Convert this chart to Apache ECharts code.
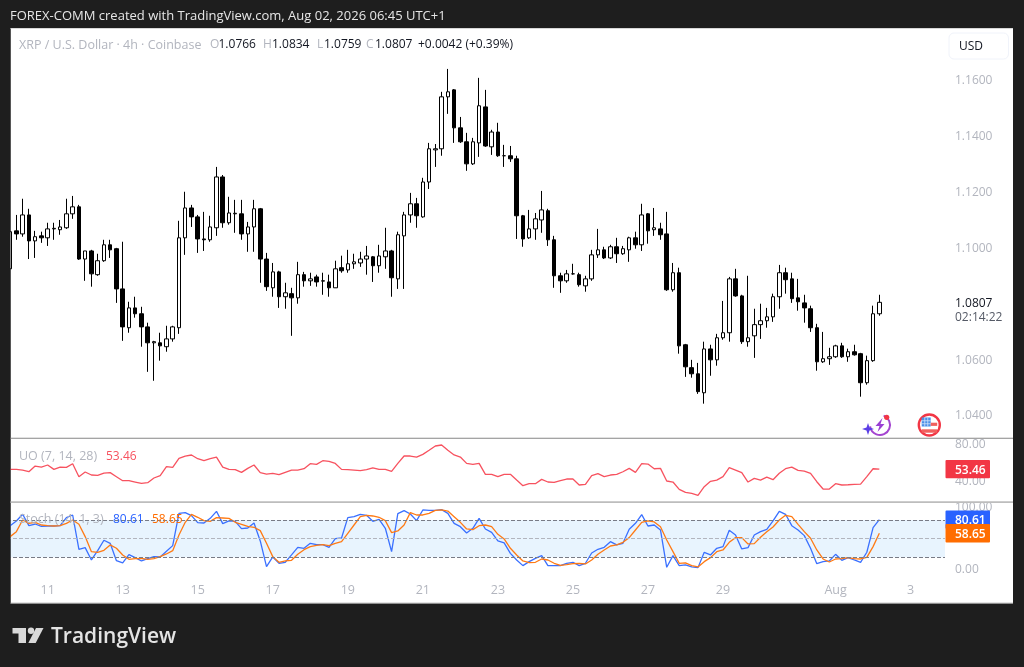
<!DOCTYPE html>
<html><head><meta charset="utf-8"><style>html,body{margin:0;padding:0;background:#1e1e1e}#c{width:1024px;height:667px}</style>
<script src="https://cdn.jsdelivr.net/npm/echarts@6/dist/echarts.min.js"></script></head>
<body><div id="c"></div>
<script>
const opens=[1.0927,1.1063,1.1052,1.1120,1.1027,1.1045,1.1038,1.1070,1.1067,1.1074,1.1124,1.1149,1.0962,1.0991,1.0906,1.0956,1.1013,1.0999,1.0855,1.0716,1.0787,1.0766,1.0719,1.0662,1.0662,1.0648,1.0676,1.0716,1.1038,1.1145,1.1113,1.1034,1.1031,1.1074,1.1256,1.1092,1.1124,1.1124,1.1052,1.1077,1.1142,1.0962,1.0859,1.0916,1.0827,1.0838,1.0823,1.0906,1.0884,1.0898,1.0884,1.0880,1.0859,1.0931,1.0923,1.0945,1.0948,1.0962,1.0970,1.0938,1.0970,1.0991,1.0891,1.1045,1.1120,1.1160,1.1113,1.1238,1.1353,1.1357,1.1543,1.1568,1.1432,1.1382,1.1303,1.1378,1.1507,1.1364,1.1417,1.1332,1.1332,1.1321,1.1117,1.1038,1.1070,1.1102,1.1135,1.1031,1.0902,1.0884,1.0909,1.0906,1.0866,1.0891,1.0977,1.0995,1.0966,1.1006,1.0981,1.0995,1.1038,1.1013,1.1124,1.1067,1.1070,1.1052,1.0852,1.0913,1.0655,1.0573,1.0551,1.0483,1.0640,1.0601,1.0680,1.0698,1.0891,1.0830,1.0666,1.0687,1.0727,1.0741,1.0755,1.0827,1.0913,1.0891,1.0823,1.0805,1.0784,1.0716,1.0594,1.0605,1.0612,1.0651,1.0612,1.0630,1.0623,1.0519,1.0598,1.0766];
const closes=[1.1060,1.1052,1.1120,1.1027,1.1042,1.1038,1.1070,1.1072,1.1077,1.1124,1.1149,1.0962,1.0991,1.0909,1.0956,1.1013,1.0995,1.0855,1.0719,1.0787,1.0766,1.0719,1.0662,1.0666,1.0651,1.0676,1.0719,1.1038,1.1145,1.1113,1.1034,1.1031,1.1077,1.1256,1.1092,1.1127,1.1126,1.1052,1.1077,1.1142,1.0962,1.0863,1.0916,1.0827,1.0841,1.0823,1.0906,1.0884,1.0891,1.0880,1.0883,1.0859,1.0927,1.0920,1.0945,1.0952,1.0962,1.0973,1.0938,1.0973,1.0991,1.0895,1.1049,1.1120,1.1160,1.1117,1.1238,1.1357,1.1357,1.1543,1.1561,1.1432,1.1382,1.1303,1.1382,1.1511,1.1367,1.1417,1.1332,1.1332,1.1321,1.1117,1.1034,1.1070,1.1106,1.1138,1.1031,1.0902,1.0884,1.0909,1.0909,1.0870,1.0891,1.0977,1.0995,1.0966,1.1006,1.0981,1.0999,1.1038,1.1013,1.1120,1.1063,1.1074,1.1049,1.0852,1.0913,1.0651,1.0576,1.0551,1.0487,1.0640,1.0601,1.0680,1.0698,1.0891,1.0830,1.0666,1.0680,1.0727,1.0741,1.0755,1.0827,1.0913,1.0888,1.0820,1.0809,1.0787,1.0716,1.0594,1.0605,1.0612,1.0651,1.0612,1.0630,1.0619,1.0519,1.0598,1.0766,1.0807];
const lows=[1.0923,1.1031,1.1042,1.0962,1.0966,1.1020,1.1009,1.1031,1.1049,1.1070,1.1106,1.0959,1.0884,1.0863,1.0902,1.0952,1.0966,1.0805,1.0669,1.0698,1.0752,1.0648,1.0558,1.0526,1.0598,1.0630,1.0666,1.0694,1.0977,1.1077,1.0984,1.0991,1.1024,1.1045,1.1074,1.1085,1.1056,1.1031,1.0988,1.0988,1.0877,1.0848,1.0827,1.0787,1.0784,1.0687,1.0802,1.0863,1.0866,1.0863,1.0834,1.0827,1.0859,1.0913,1.0913,1.0927,1.0934,1.0906,1.0880,1.0913,1.0927,1.0827,1.0855,1.0855,1.1092,1.1074,1.1110,1.1213,1.1292,1.1332,1.1482,1.1378,1.1378,1.1278,1.1299,1.1328,1.1364,1.1335,1.1328,1.1292,1.1310,1.1034,1.1006,1.1034,1.1031,1.1056,1.1009,1.0859,1.0841,1.0877,1.0906,1.0863,1.0845,1.0884,1.0966,1.0962,1.0962,1.0948,1.0977,1.0952,1.0999,1.0991,1.1017,1.1045,1.1031,1.0848,1.0845,1.0623,1.0540,1.0537,1.0479,1.0444,1.0544,1.0580,1.0673,1.0666,1.0827,1.0658,1.0648,1.0608,1.0676,1.0716,1.0737,1.0784,1.0838,1.0805,1.0777,1.0734,1.0701,1.0562,1.0590,1.0583,1.0608,1.0608,1.0594,1.0616,1.0469,1.0512,1.0594,1.0759];
const highs=[1.1067,1.1120,1.1178,1.1142,1.1063,1.1060,1.1092,1.1092,1.1102,1.1178,1.1188,1.1156,1.0991,1.0995,1.0981,1.1031,1.1031,1.1002,1.1024,1.0809,1.0827,1.0791,1.0734,1.0669,1.0698,1.0723,1.0723,1.1099,1.1203,1.1156,1.1120,1.1131,1.1117,1.1292,1.1263,1.1185,1.1174,1.1174,1.1095,1.1174,1.1145,1.0984,1.0948,1.0920,1.0877,1.0859,1.0952,1.0916,1.0913,1.0906,1.0913,1.0906,1.0956,1.0974,1.0995,1.0981,1.0988,1.1009,1.0973,1.1013,1.1074,1.0995,1.1060,1.1131,1.1199,1.1181,1.1253,1.1378,1.1374,1.1561,1.1643,1.1571,1.1471,1.1414,1.1396,1.1611,1.1568,1.1425,1.1450,1.1371,1.1367,1.1332,1.1120,1.1138,1.1127,1.1206,1.1142,1.1045,1.0913,1.0923,1.0945,1.0913,1.0902,1.0995,1.1070,1.1006,1.1013,1.1038,1.1009,1.1042,1.1060,1.1160,1.1127,1.1145,1.1092,1.1131,1.0948,1.0931,1.0658,1.0601,1.0590,1.0666,1.0655,1.0694,1.0812,1.0898,1.0927,1.0834,1.0902,1.0784,1.0802,1.0787,1.0838,1.0941,1.0931,1.0913,1.0891,1.0834,1.0795,1.0730,1.0701,1.0644,1.0655,1.0662,1.0641,1.0655,1.0626,1.0616,1.0795,1.0834];
const uo=[53.2,53.2,52.5,50.7,56.8,55.7,57.9,53.2,55.7,55.4,59.3,45.4,50.4,47.2,46.8,49.3,49.7,45.4,41.1,41.1,39.7,38.3,39.0,44.0,46.5,56.1,55.4,65.0,67.5,68.6,64.6,62.5,64.6,66.4,55.7,53.2,52.9,50.0,54.3,57.9,49.7,48.2,49.0,47.5,50.0,52.5,52.5,53.9,59.3,58.6,62.5,61.8,59.6,53.2,52.9,52.5,51.8,52.9,54.7,53.2,53.2,51.1,59.6,67.5,67.5,66.4,69.3,73.6,78.2,79.3,73.6,68.6,66.4,59.6,58.6,59.6,47.9,47.9,45.4,47.9,47.9,41.8,35.8,37.9,37.9,42.5,39.7,39.3,41.1,42.9,42.9,36.5,37.2,46.5,48.6,45.4,47.2,47.9,50.7,54.3,50.0,59.3,58.9,53.9,54.3,40.8,39.7,31.8,28.6,27.6,25.5,34.7,40.4,41.8,45.4,55.0,52.5,49.7,39.7,43.6,41.8,45.0,42.2,49.0,53.9,55.7,52.2,51.4,49.0,40.0,32.2,32.2,37.9,36.5,36.8,37.2,37.5,45.4,53.9,53.46];
const stochK=[70.8,78.4,89.1,70.8,73.5,69.8,70.3,70.3,70.8,83.7,88.0,32.8,35.5,15.6,30.6,47.3,42.4,14.5,10.8,24.2,19.4,14.0,17.8,21.0,20.5,29.6,38.7,90.7,91.8,86.9,75.7,75.1,82.6,93.9,74.1,78.4,77.8,66.0,67.1,75.1,46.2,4.9,20.5,10.3,11.9,23.7,36.0,34.4,42.4,40.3,40.3,36.0,49.9,51.0,83.7,85.3,89.1,87.5,77.8,81.0,66.6,29.0,90.2,95.0,89.6,78.9,96.1,95.5,95.5,96.6,90.7,74.6,69.2,59.1,66.6,82.6,65.5,60.1,46.2,43.0,26.3,15.6,6.5,12.9,18.3,22.6,6.5,6.5,6.5,10.3,11.9,6.5,10.3,26.9,32.8,36.0,45.1,39.8,42.4,65.0,74.6,88.6,70.3,71.9,63.9,3.8,22.6,6.5,7.6,4.4,3.3,28.0,23.7,34.4,37.1,63.4,55.8,33.3,35.5,55.8,61.2,65.0,78.4,93.9,89.1,70.8,63.9,54.8,34.4,9.7,12.9,14.0,24.7,15.1,19.4,15.6,11.9,28.0,67.6,80.61];
const stochD=[53.2,61.2,80.0,74.6,76.2,71.9,70.8,70.3,70.8,74.6,80.0,73.0,53.2,29.0,28.0,31.2,39.8,34.4,23.7,16.7,17.8,18.3,16.7,17.8,21.0,25.3,30.6,55.8,76.2,89.1,84.3,78.9,77.8,83.7,83.2,82.6,76.2,73.0,69.8,68.2,62.8,42.4,21.0,11.9,14.0,15.1,24.7,32.2,37.1,39.2,40.3,38.7,42.4,45.1,58.5,71.9,85.3,87.5,86.4,84.3,78.9,59.6,62.3,71.9,91.8,88.0,88.0,90.7,95.5,96.1,94.4,85.3,76.2,65.5,64.4,70.8,71.9,69.2,56.9,49.4,34.4,23.7,14.0,11.3,11.9,17.2,15.6,10.3,7.0,8.1,9.7,10.3,9.2,15.6,24.7,31.7,38.1,39.8,44.0,51.6,63.9,76.2,78.4,76.8,69.2,47.8,29.0,10.3,10.8,6.5,4.4,12.9,19.4,29.0,31.7,44.0,51.6,51.6,41.4,41.9,52.1,61.2,68.7,80.0,87.5,85.3,73.0,61.2,50.5,31.7,17.2,12.4,17.2,17.8,19.4,17.8,17.2,19.9,37.1,58.65];
const tickIndex=[6,18,30,42,54,66,78,90,102,114,132,144];
const tickLabels=['11','13','15','17','19','21','23','25','27','29','Aug','3'];
const priceTicks=[1.04,1.06,1.10,1.12,1.14,1.16];
const uoTicks=[40,80];
const stochTicks=[0,100];
const BAND_COUNT=150;
const categories=Array.from({length:BAND_COUNT},(_,i)=>'bar '+i);
const candles=opens.map((o,i)=>[o,closes[i],lows[i],highs[i]]);

const FF='"Open Sans"';
const AXC='#b2b5be';
const chart=echarts.init(document.getElementById('c'),null,{renderer:'canvas',width:1024,height:667});
const xAx=(gi,show)=>({type:'category',gridIndex:gi,data:categories,boundaryGap:true,
  axisLine:{show:false},axisTick:{show:false},splitLine:{show:false},
  axisLabel:{show,interval:0,margin:5,color:AXC,fontFamily:FF,fontSize:12.5,
    formatter:(v,i)=>{const k=tickIndex.indexOf(i);return k>=0?tickLabels[k]:'';}}});
const yAx=(gi,min,max,ticks,dec)=>({type:'value',gridIndex:gi,position:'right',min,max,scale:true,
  axisLine:{show:false},splitLine:{show:false},axisTick:{show:false},
  axisLabel:{customValues:ticks,margin:10,color:AXC,fontFamily:FF,fontSize:12,padding:[4,0,0,0],formatter:v=>v.toFixed(dec)}});
chart.setOption({
  animation:false,backgroundColor:'#1e1e1e',
  grid:[{left:7,width:938,top:29,height:409},{left:7,width:938,top:439,height:62},{left:7,width:938,top:503,height:76}],
  xAxis:[xAx(0,false),xAx(1,false),xAx(2,true)],
  yAxis:[yAx(0,1.0321,1.1786,priceTicks,4),yAx(1,19.4,85.7,uoTicks,2),yAx(2,-15,107.3,stochTicks,2)],
  series:[
   {type:'candlestick',xAxisIndex:0,yAxisIndex:0,data:candles,barWidth:4,
    itemStyle:{color:'#ffffff',color0:'#000000',borderColor:'#000000',borderColor0:'#000000',borderWidth:1}},
   {type:'line',xAxisIndex:1,yAxisIndex:1,data:uo,symbol:'none',lineStyle:{color:'#f7525f',width:1.3}},
   {type:'line',xAxisIndex:2,yAxisIndex:2,data:stochK,symbol:'none',lineStyle:{color:'#3a70ff',width:1.3},z:3,
    markArea:{silent:true,itemStyle:{color:'rgba(33,150,243,0.1)'},data:[[{yAxis:80},{yAxis:20}]]},
    markLine:{silent:true,symbol:'none',label:{show:false},animation:false,data:[
      {yAxis:80,lineStyle:{color:'#787b86',type:'dashed',width:1}},
      {yAxis:50,lineStyle:{color:'#b2b5be',type:'dashed',width:1}},
      {yAxis:20,lineStyle:{color:'#787b86',type:'dashed',width:1}}]}},
   {type:'line',xAxisIndex:2,yAxisIndex:2,data:stochD,symbol:'none',lineStyle:{color:'#ff7a14',width:1.3},z:4}
  ]
});
const yOf=(gi,v)=>chart.convertToPixel({yAxisIndex:gi},v);
const DARK='#1e1e1e';
const txt=(x,y,text,color,size,extra)=>({type:'text',z:60,x,y,style:Object.assign({text,fill:color,fontFamily:FF,fontSize:size,verticalAlign:'middle'},extra||{})});
const rect=(x,y,w,h,fill,z,r)=>({type:'rect',z:z,shape:{x,y,width:w,height:h,r:r||0},style:{fill}});
const tag=(v,bg,gi)=>{const y=yOf(gi,v);return {type:'group',z:70,children:[
  rect(945.5,y-9.2,44.5,18.4,bg,70,1),
  {type:'text',z:71,x:955,y:y+1,style:{text:v.toFixed(2),fill:'#fff',fontFamily:FF,fontSize:12,fontWeight:600,verticalAlign:'middle'}}]};};
const legendBits=[[210,'O',AXC],[218.5,'1.0766','#131722'],[263,'H',AXC],[272,'1.0834','#131722'],[317,'L',AXC],[324,'1.0759','#131722'],[366,'C',AXC],[375,'1.0807','#131722'],[418,'+0.0042 (+0.39%)','#131722']];
const lastClose=closes[closes.length-1];
chart.setOption({graphic:{elements:[
  rect(10.5,28.5,1002.5,575,'#ffffff',0),
  rect(0,0,10.5,667,DARK,50),
  rect(10.5,28,1002.5,1,'#d8d8d8',51),
  rect(10.5,437.8,1002.5,1,'#868686',51),
  rect(10.5,501.3,1002.5,1.8,'#bdbdbd',51),
  rect(10.5,602.8,1002.5,1,'#8f8f8f',51),
  txt(10,16,'FOREX-COMM created with TradingView.com, Aug 02, 2026 06:45 UTC+1','#e6e6e6',13),
  txt(19,45,'XRP / U.S. Dollar · 4h · Coinbase',AXC,12.5),
  ...legendBits.map(b=>txt(b[0],45,b[1],b[2],12)),
  {type:'rect',z:60,shape:{x:949,y:33,width:59.5,height:26,r:5},style:{fill:'#fff',stroke:'#f0f3fa',lineWidth:1}},
  txt(959,47,'USD','#131722',12),
  txt(955,yOf(0,lastClose)+1,lastClose.toFixed(4),'#131722',12,{fontWeight:500}),
  txt(955,318,'02:14:22','#555a66',12),
  txt(19,456.5,'UO (7, 14, 28)',AXC,12.5),
  txt(106,456.5,uo[uo.length-1].toFixed(2),'#f7525f',12),
  txt(19,519.5,'Stoch (14, 1, 3)',AXC,12.5),
  txt(113,519.5,stochK[stochK.length-1].toFixed(2),'#2962ff',12),
  txt(152,519.5,stochD[stochD.length-1].toFixed(2),'#ff6d00',12),
  tag(uo[uo.length-1],'#f23645',1),
  tag(stochK[stochK.length-1],'#2962ff',2),
  tag(stochD[stochD.length-1],'#ff6d00',2),
  {type:'polygon',z:60,shape:{points:[[12.5,628],[26,628],[26,643],[18.5,643],[18.5,633.5],[12.5,633.5]]},style:{fill:'#d9d9d9'}},
  {type:'circle',z:60,shape:{cx:31,cy:630.8,r:3.2},style:{fill:'#d9d9d9'}},
  {type:'polygon',z:60,shape:{points:[[36,628],[43.5,628],[35.7,643],[28.3,643]]},style:{fill:'#d9d9d9'}},
  txt(51,637,'TradingView','#e4e4e4',21,{fontWeight:600}),
  {type:'arc',z:60,shape:{cx:880,cy:425,r:10,startAngle:-1.2,endAngle:3.0,clockwise:true},style:{fill:'none',stroke:'#a445d0',lineWidth:2}},
  {type:'polygon',z:60,shape:{points:[[882.5,418],[875.5,426],[879.5,426],[877.5,432],[884.5,424],[880.5,424]]},style:{fill:'#9a3fd4'}},
  {type:'polygon',z:60,shape:{points:[[868,423],[869.5,427.5],[874,429],[869.5,430.5],[868,435],[866.5,430.5],[862,429],[866.5,427.5]]},style:{fill:'#5b3fe6'}},
  {type:'circle',z:61,shape:{cx:886.7,cy:417.3,r:2.6},style:{fill:'#f23645'}},
  {type:'circle',z:60,shape:{cx:929.3,cy:425,r:10.5},style:{fill:'#fff',stroke:'#f23645',lineWidth:2.4}},
  rect(921.7,417.5,9,9,'#4a90e8',61),
  rect(924.4,417.5,.8,9,'#cfe3fa',62),
  rect(927.4,417.5,.8,9,'#cfe3fa',62),
  rect(921.7,420.4,9,.8,'#cfe3fa',62),
  rect(921.7,423.4,9,.8,'#cfe3fa',62),
  rect(930.7,422.7,6.5,3.2,'#f0605e',61),
  rect(921.7,429.3,15.5,3.4,'#f0605e',61)
]}});
</script></body></html>
